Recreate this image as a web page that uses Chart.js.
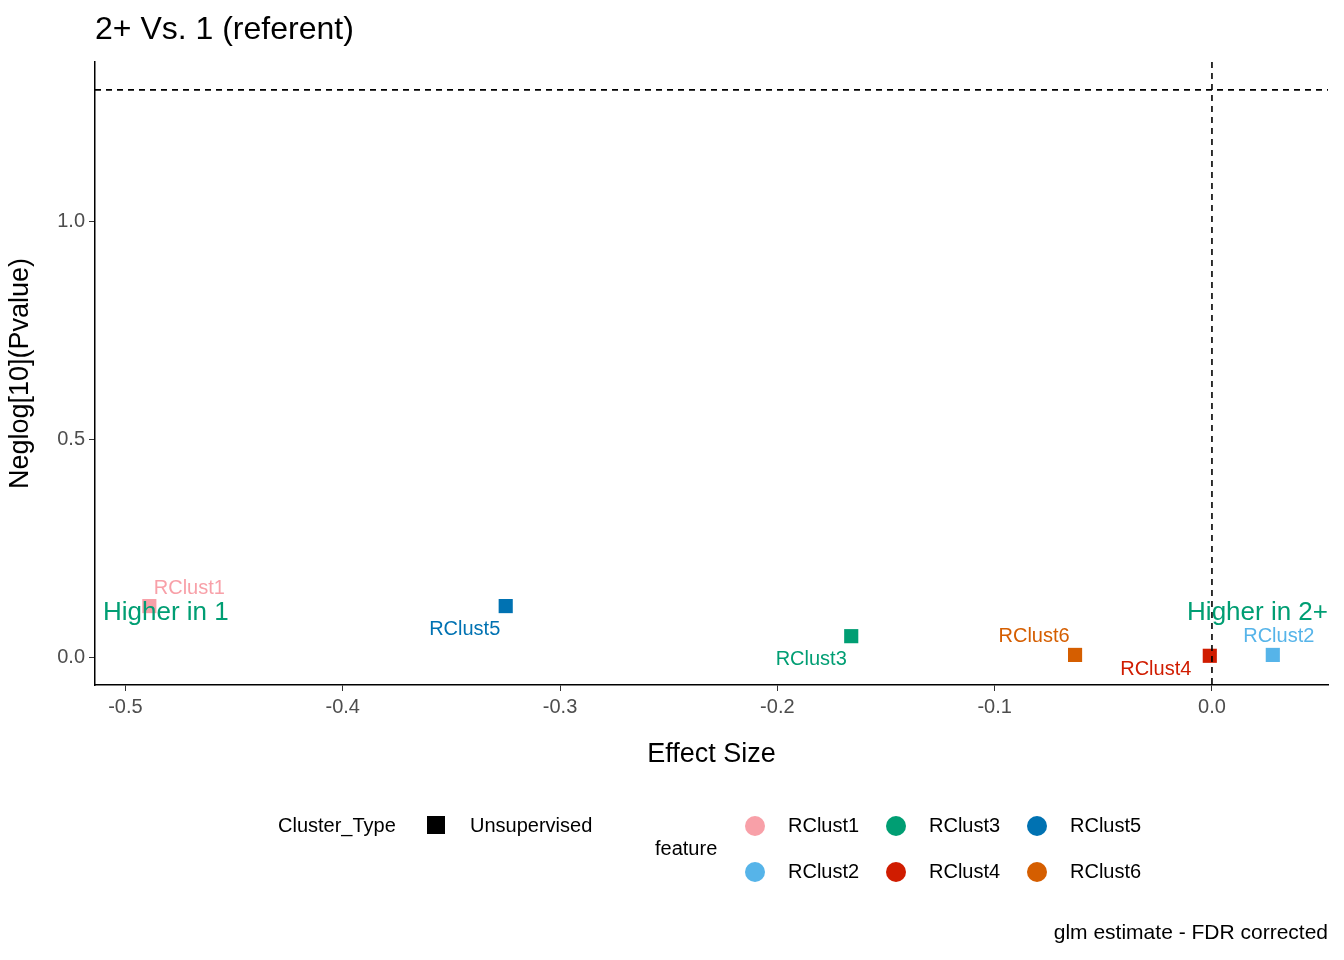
<!DOCTYPE html>
<html>
<head>
<meta charset="utf-8">
<script src="https://cdn.jsdelivr.net/npm/chart.js@4"></script>
<style>
  body { margin: 0; background: #fff; }
  #wrap { width: 1344px; height: 960px; position: relative; }
</style>
</head>
<body>
<div id="wrap"><canvas id="chart" width="1344" height="960"></canvas></div>
<script>
// Data
const features = ['RClust1', 'RClust2', 'RClust3', 'RClust4', 'RClust5', 'RClust6'];
const effectSize = [-0.489, 0.028, -0.166, -0.001, -0.325, -0.063];
const negLogP = [0.117, 0.005, 0.048, 0.003, 0.117, 0.005];
const xTicks = [-0.5, -0.4, -0.3, -0.2, -0.1, 0.0];
const yTicks = [0.0, 0.5, 1.0];
const pThreshold = 1.301; // -log10(0.05)

// Colours and label offsets (pixels, relative to the point)
const colors = ['#F8A0A8', '#56B4E9', '#009E73', '#D01C00', '#0072B2', '#D55E00'];
const labelOffsets = [[40, -18], [6, -18], [-40, 23], [-54, 14], [-41, 23], [-41, -18]];

const FONT = '"Liberation Sans", Arial, sans-serif';

const overlay = {
  id: 'overlay',
  afterDatasetsDraw(chart) {
    const { ctx, chartArea: a, scales: { x, y } } = chart;
    ctx.save();
    // reference lines
    ctx.strokeStyle = '#000';
    ctx.lineWidth = 1.6;
    ctx.setLineDash([6, 5]);
    ctx.beginPath();
    ctx.moveTo(a.left, y.getPixelForValue(pThreshold));
    ctx.lineTo(a.right, y.getPixelForValue(pThreshold));
    ctx.moveTo(x.getPixelForValue(0), a.top);
    ctx.lineTo(x.getPixelForValue(0), a.bottom);
    ctx.stroke();
    ctx.setLineDash([]);
    // point labels
    ctx.font = '20px ' + FONT;
    ctx.textAlign = 'center';
    ctx.textBaseline = 'middle';
    features.forEach((f, i) => {
      ctx.fillStyle = colors[i];
      ctx.fillText(f, x.getPixelForValue(effectSize[i]) + labelOffsets[i][0],
                   y.getPixelForValue(negLogP[i]) + labelOffsets[i][1]);
    });
    // direction annotations
    ctx.font = '26px ' + FONT;
    ctx.fillStyle = '#009E73';
    ctx.textAlign = 'left';
    ctx.fillText('Higher in 1', a.left + 8, 613);
    ctx.textAlign = 'right';
    ctx.fillText('Higher in 2+', a.right, 613);
    ctx.restore();
  },
  afterDraw(chart) {
    const ctx = chart.ctx;
    ctx.save();
    ctx.fillStyle = '#000';
    ctx.textBaseline = 'middle';
    ctx.textAlign = 'left';
    ctx.font = '32px ' + FONT;
    ctx.fillText('2+ Vs. 1 (referent)', 95, 30);
    ctx.font = '21px ' + FONT;
    ctx.textAlign = 'right';
    ctx.fillText('glm estimate - FDR corrected', 1328, 933);
    // legend
    ctx.textAlign = 'left';
    ctx.font = '20px ' + FONT;
    ctx.fillText('Cluster_Type', 278, 826);
    ctx.fillRect(427, 816, 18, 18);
    ctx.fillText('Unsupervised', 470, 826);
    ctx.fillText('feature', 655, 849);
    const cols = [755, 896, 1037];
    const rows = [826, 872];
    const order = [[0, 2, 4], [1, 3, 5]];
    order.forEach((r, ri) => r.forEach((fi, ci) => {
      ctx.fillStyle = colors[fi];
      ctx.beginPath();
      ctx.arc(cols[ci], rows[ri], 10, 0, Math.PI * 2);
      ctx.fill();
      ctx.fillStyle = '#000';
      ctx.fillText(features[fi], cols[ci] + 33, rows[ri]);
    }));
    ctx.restore();
  }
};

new Chart(document.getElementById('chart'), {
  type: 'scatter',
  data: {
    datasets: [{
      data: features.map((f, i) => ({ x: effectSize[i], y: negLogP[i] })),
      backgroundColor: colors,
      borderWidth: 0,
      pointStyle: 'rect',
      pointRadius: 10,
      pointHoverRadius: 10
    }]
  },
  options: {
    responsive: false,
    animation: false,
    layout: { padding: { top: 62, right: 16, bottom: 185, left: 0 } },
    plugins: { legend: { display: false }, tooltip: { enabled: false } },
    scales: {
      x: {
        type: 'linear', min: -0.514, max: 0.0534,
        afterBuildTicks: s => { s.ticks = xTicks.map(v => ({ value: v })); },
        afterFit: s => { s.height = 90; },
        border: { color: '#000', width: 1.5 },
        grid: { display: true, drawOnChartArea: false, drawTicks: true, tickLength: 6, color: '#333' },
        ticks: { color: '#4d4d4d', font: { size: 20, family: FONT }, padding: 4,
                 callback: v => v.toFixed(1) },
        title: { display: true, text: 'Effect Size', color: '#000', font: { size: 27, family: FONT }, padding: { top: 4 } }
      },
      y: {
        type: 'linear', min: -0.064, max: 1.365,
        afterBuildTicks: s => { s.ticks = yTicks.map(v => ({ value: v })); },
        afterFit: s => { s.width = 95; },
        border: { color: '#000', width: 1.5 },
        grid: { display: true, drawOnChartArea: false, drawTicks: true, tickLength: 6, color: '#333' },
        ticks: { color: '#4d4d4d', font: { size: 20, family: FONT }, padding: 4,
                 callback: v => v.toFixed(1) },
        title: { display: true, text: 'Neglog[10](Pvalue)', color: '#000', font: { size: 27, family: FONT }, padding: { bottom: 6 } }
      }
    }
  },
  plugins: [overlay]
});
</script>
</body>
</html>
